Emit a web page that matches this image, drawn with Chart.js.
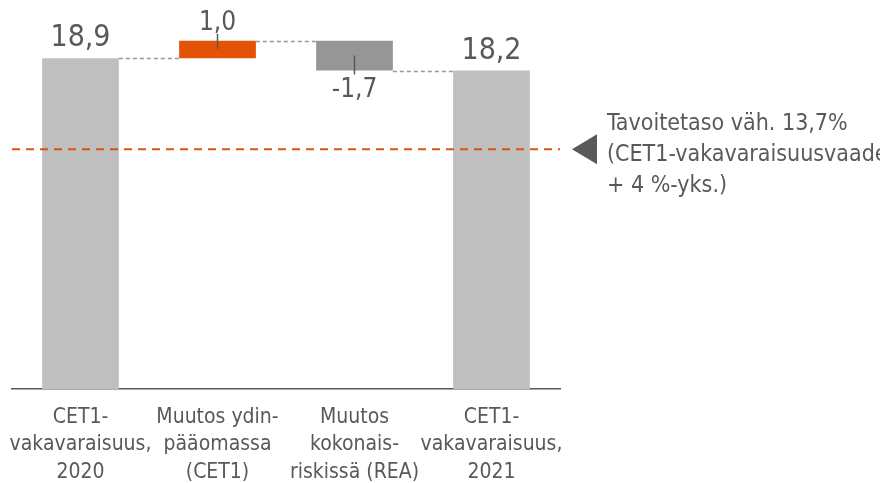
<!DOCTYPE html>
<html>
<head>
<meta charset="utf-8">
<script src="https://cdn.jsdelivr.net/npm/chart.js@4.4.1/dist/chart.umd.min.js"></script>
<style>
    html, body { margin: 0; padding: 0; background: #fff; }
    #wrap { width: 880px; height: 483px; position: relative; }
</style>
</head>
<body>
<div id="wrap"><canvas id="waterfallChart"></canvas></div>
<script>
// Chart data
const categories = [
    ['CET1-', 'vakavaraisuus,', '2020'],
    ['Muutos ydin-', 'pääomassa', '(CET1)'],
    ['Muutos', 'kokonais-', 'riskissä (REA)'],
    ['CET1-', 'vakavaraisuus,', '2021']
];
const values = [18.9, 1.0, -1.7, 18.2];
const isTotal = [true, false, false, true];
const barColors = ['#bfbfbf', '#e35205', '#969696', '#bfbfbf'];
const targetLevel = 13.7;
const targetText = ['Tavoitetaso väh. 13,7%', '(CET1-vakavaraisuusvaade', '+ 4 %-yks.)'];

const FONT = "'DejaVu Sans Condensed', 'Liberation Sans Narrow', Arial, sans-serif";
const TEXT = '#595959';

// Build floating ranges for the waterfall
let running = 0;
const ranges = values.map(function(v, i) {
    if (isTotal[i]) {
        running = v;
        return [0, v];
    }
    const start = running;
    running = +(running + v).toFixed(2);
    return [start, running];
});

function fmt(v) {
    return v.toFixed(1).replace('.', ',');
}

const waterfallExtras = {
    id: 'waterfallExtras',
    afterDatasetsDraw(chart) {
        const ctx = chart.ctx;
        const y = chart.scales.y;
        const bars = chart.getDatasetMeta(0).data;
        ctx.save();

        // connector lines
        ctx.strokeStyle = '#999999';
        ctx.lineWidth = 1.4;
        ctx.setLineDash([4, 3]);
        for (let i = 0; i < bars.length - 1; i++) {
            const py = Math.round(y.getPixelForValue(ranges[i][1])) + 0.5;
            ctx.beginPath();
            ctx.moveTo(bars[i].x + bars[i].width / 2, py);
            ctx.lineTo(bars[i + 1].x - bars[i + 1].width / 2, py);
            ctx.stroke();
        }

        // target line
        const ty = y.getPixelForValue(targetLevel);
        ctx.strokeStyle = '#e35205';
        ctx.lineWidth = 2;
        ctx.setLineDash([8, 6]);
        ctx.beginPath();
        ctx.moveTo(chart.chartArea.left, ty);
        ctx.lineTo(chart.chartArea.right, ty);
        ctx.stroke();
        ctx.setLineDash([]);

        // triangle marker
        ctx.fillStyle = '#595959';
        ctx.beginPath();
        ctx.moveTo(572, ty);
        ctx.lineTo(597, ty - 15);
        ctx.lineTo(597, ty + 15);
        ctx.closePath();
        ctx.fill();

        // annotation text
        ctx.font = '23px ' + FONT;
        ctx.textAlign = 'left';
        ctx.textBaseline = 'alphabetic';
        targetText.forEach(function(line, k) {
            ctx.fillText(line, 607, ty - 19 + k * 31);
        });

        // value labels
        ctx.textAlign = 'center';
        bars.forEach(function(bar, i) {
            const r = ranges[i];
            const topPx = y.getPixelForValue(Math.max(r[0], r[1]));
            const botPx = y.getPixelForValue(Math.min(r[0], r[1]));
            ctx.fillStyle = TEXT;
            if (isTotal[i]) {
                ctx.font = '30px ' + FONT;
                ctx.textBaseline = 'alphabetic';
                ctx.fillText(fmt(values[i]), bar.x, topPx - 12);
            } else if (values[i] >= 0) {
                ctx.font = '26px ' + FONT;
                ctx.textBaseline = 'alphabetic';
                ctx.fillText(fmt(values[i]), bar.x, topPx - 11);
                ctx.strokeStyle = TEXT;
                ctx.lineWidth = 1.5;
                ctx.beginPath();
                ctx.moveTo(bar.x, topPx - 7);
                ctx.lineTo(bar.x, topPx + 8);
                ctx.stroke();
            } else {
                ctx.font = '26px ' + FONT;
                ctx.textBaseline = 'top';
                ctx.fillText(fmt(values[i]).replace('-', '\u2011'), bar.x, botPx + 7);
                ctx.strokeStyle = TEXT;
                ctx.lineWidth = 1.5;
                ctx.beginPath();
                ctx.moveTo(bar.x, botPx - 15);
                ctx.lineTo(bar.x, botPx + 4);
                ctx.stroke();
            }
        });
        ctx.restore();
    }
};

new Chart(document.getElementById('waterfallChart'), {
    type: 'bar',
    data: {
        labels: categories,
        datasets: [{
            data: ranges,
            backgroundColor: barColors,
            borderWidth: 0,
            categoryPercentage: 1,
            barPercentage: 0.56
        }]
    },
    options: {
        responsive: true,
        maintainAspectRatio: false,
        animation: false,
        layout: { padding: { left: 12, right: 320, top: 4, bottom: 0 } },
        plugins: {
            legend: { display: false },
            tooltip: { enabled: false }
        },
        scales: {
            y: {
                display: false,
                min: 0,
                max: 22
            },
            x: {
                grid: { display: false },
                border: { display: true, color: '#595959', width: 1.5 },
                afterFit: function(scale) {
                    scale.height = 94;
                    scale.paddingLeft = 0;
                    scale.paddingRight = 0;
                },
                ticks: {
                    autoSkip: false,
                    maxRotation: 0,
                    padding: 7,
                    color: TEXT,
                    font: { size: 21, family: FONT, lineHeight: 1.3 }
                }
            }
        }
    },
    plugins: [waterfallExtras]
});
</script>
</body>
</html>
